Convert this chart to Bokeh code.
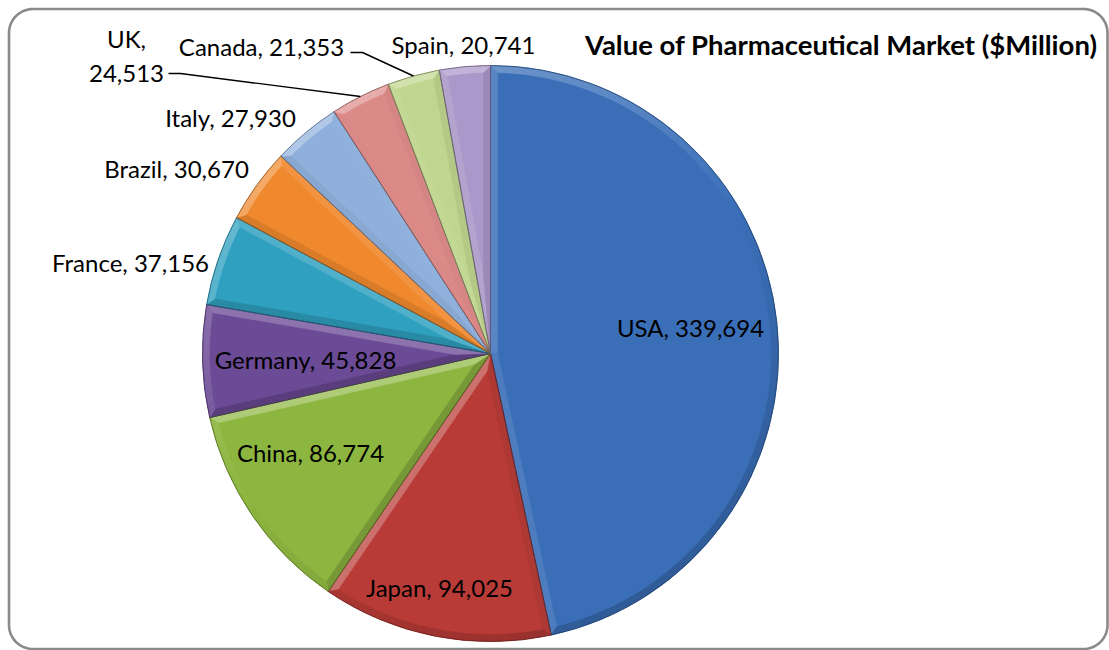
import numpy as np
from bokeh.plotting import figure
from bokeh.models import ColumnDataSource, Range1d
from bokeh.core.properties import value
from bokeh.embed import file_html
from bokeh.resources import INLINE

# ---------------- data ----------------
countries = ["USA", "Japan", "China", "Germany", "France", "Brazil",
             "Italy", "UK", "Canada", "Spain"]
values = [339694, 94025, 86774, 45828, 37156, 30670, 27930, 24513, 21353, 20741]
colors = ["#3a6fb8", "#b83b37", "#8db640", "#6b4a96", "#2fa0bf", "#f0892e",
          "#8fb0dc", "#dc8a88", "#bfd68e", "#ab97c9"]
title = "Value of Pharmaceutical Market ($Million)"

# ---------------- layout (pixel positions in the picture) ----------------
W, H = 1109, 650
OFF = 0


def px(xi, yi):
    return xi - OFF, (H + OFF) - yi


CX, CY = px(490, 353)
R = 288
BEVEL = 7
label_anchor_img = [(690, 327), (439, 587), (310, 452), (305, 359), (130, 262),
                    (176, 168), (230, 117), (126, 55), (261, 46), (463, 44)]
leader_start_img = {"UK": (168, 73), "Canada": (350, 52)}
FONT = "Lato"
LABEL_SIZE = "24px"

# ---------------- geometry from data ----------------
vals = np.array(values, dtype=float)
frac = vals / vals.sum()
cum = np.concatenate([[0.0], np.cumsum(frac)])
start = np.pi / 2 - 2 * np.pi * cum[:-1]   # math angle, going clockwise
end = np.pi / 2 - 2 * np.pi * cum[1:]
mid = (start + end) / 2


def blend(hexc, t):
    c = np.array([int(hexc[i:i + 2], 16) for i in (1, 3, 5)], dtype=float)
    if t >= 0:
        c = c + (255 - c) * t
    else:
        c = c * (1 + t)
    c = np.clip(np.round(c), 0, 255).astype(int)
    return "#%02x%02x%02x" % tuple(c)


light = np.array([-0.5, 0.85])
light = light / np.linalg.norm(light)


def shade(base, nx, ny):
    d = nx * light[0] + ny * light[1]
    return blend(base, 0.3 * d if d > 0 else 0.18 * d)


p = figure(width=W, height=H, x_range=Range1d(0, W), y_range=Range1d(0, H),
           output_backend="svg", toolbar_location=None, min_border=0,
           outline_line_color=None, background_fill_color="white",
           border_fill_color="white")
p.xaxis.visible = False
p.yaxis.visible = False
p.xgrid.visible = False
p.ygrid.visible = False

# main wedges
src = ColumnDataSource(dict(start=start, end=end, color=colors,
                            edge=[blend(c, -0.4) for c in colors]))
p.wedge(x=CX, y=CY, radius=R, start_angle="start", end_angle="end",
        direction="clock", fill_color="color", line_color=None, source=src)

# bevel bands
bx, by, bc = [], [], []
for i in range(len(values)):
    a1, a2 = start[i], end[i]
    h = (a1 - a2) / 2
    w = BEVEL
    vd = w / np.sin(h)
    vx, vy = CX + vd * np.cos(mid[i]), CY + vd * np.sin(mid[i])
    ri = R - w
    dl = np.arcsin(w / ri)
    # edge at a1 (outward normal a1 + 90deg)
    bx.append([CX, CX + R * np.cos(a1), CX + ri * np.cos(a1 - dl), vx])
    by.append([CY, CY + R * np.sin(a1), CY + ri * np.sin(a1 - dl), vy])
    bc.append(shade(colors[i], np.cos(a1 + np.pi / 2), np.sin(a1 + np.pi / 2)))
    # edge at a2 (outward normal a2 - 90deg)
    bx.append([CX, vx, CX + ri * np.cos(a2 + dl), CX + R * np.cos(a2)])
    by.append([CY, vy, CY + ri * np.sin(a2 + dl), CY + R * np.sin(a2)])
    bc.append(shade(colors[i], np.cos(a2 - np.pi / 2), np.sin(a2 - np.pi / 2)))
    # outer arc band
    n = max(4, int(np.degrees(a1 - a2) / 2))
    to = np.linspace(a1, a2, n + 1)
    ti = np.linspace(a1 - dl, a2 + dl, n + 1)
    for k in range(n):
        qx = [CX + R * np.cos(to[k]), CX + R * np.cos(to[k + 1]),
              CX + ri * np.cos(ti[k + 1]), CX + ri * np.cos(ti[k])]
        qy = [CY + R * np.sin(to[k]), CY + R * np.sin(to[k + 1]),
              CY + ri * np.sin(ti[k + 1]), CY + ri * np.sin(ti[k])]
        tm = (to[k] + to[k + 1]) / 2
        bx.append(qx)
        by.append(qy)
        bc.append(shade(colors[i], np.cos(tm), np.sin(tm)))
p.patches(bx, by, fill_color=bc, line_color=bc, line_width=0.5)

# thin slice outlines
p.wedge(x=CX, y=CY, radius=R, start_angle="start", end_angle="end",
        direction="clock", fill_color=None,
        line_color="edge", line_width=0.8, source=src)

# labels
lx, ly, lt = [], [], []
for i, c in enumerate(countries):
    x, y = px(*label_anchor_img[i])
    lx.append(x)
    ly.append(y)
    if c == "UK":
        lt.append(f"{c},\n{values[i]:,}")
    else:
        lt.append(f"{c}, {values[i]:,}")
p.text(x=lx, y=ly, text=lt, text_align="center", text_baseline="middle",
       text_font=value(FONT), text_font_size=LABEL_SIZE, text_color="black",
       text_line_height=1.2)

# leader lines
for c in ("UK", "Canada"):
    i = countries.index(c)
    sx, sy = px(*leader_start_img[c])
    ex, ey = CX + R * np.cos(mid[i]), CY + R * np.sin(mid[i])
    p.line([sx, sx + 12, ex], [sy, sy, ey], line_color="black", line_width=1.4)

# title
tx, ty = px(1097, 44)
p.text(x=[tx], y=[ty], text=[title], text_align="right", text_baseline="middle",
       text_font=value(FONT), text_font_style="bold", text_font_size="27.5px",
       text_color="black")

# rounded border
rr = 24
x0, x1 = px(8.5, 0)[0], px(1107, 0)[0]
y1, y0 = px(0, 8.5)[1], px(0, 648.5)[1]
pts_x, pts_y = [], []
for (cx, cy, a0) in [(x1 - rr, y1 - rr, 0), (x0 + rr, y1 - rr, 90),
                     (x0 + rr, y0 + rr, 180), (x1 - rr, y0 + rr, 270)]:
    t = np.radians(np.linspace(a0, a0 + 90, 16))
    pts_x.extend(cx + rr * np.cos(t))
    pts_y.extend(cy + rr * np.sin(t))
pts_x.append(pts_x[0])
pts_y.append(pts_y[0])
p.line(pts_x, pts_y, line_color="#8a8a8a", line_width=2.6)

open("out.html", "w").write(file_html(p, INLINE))
